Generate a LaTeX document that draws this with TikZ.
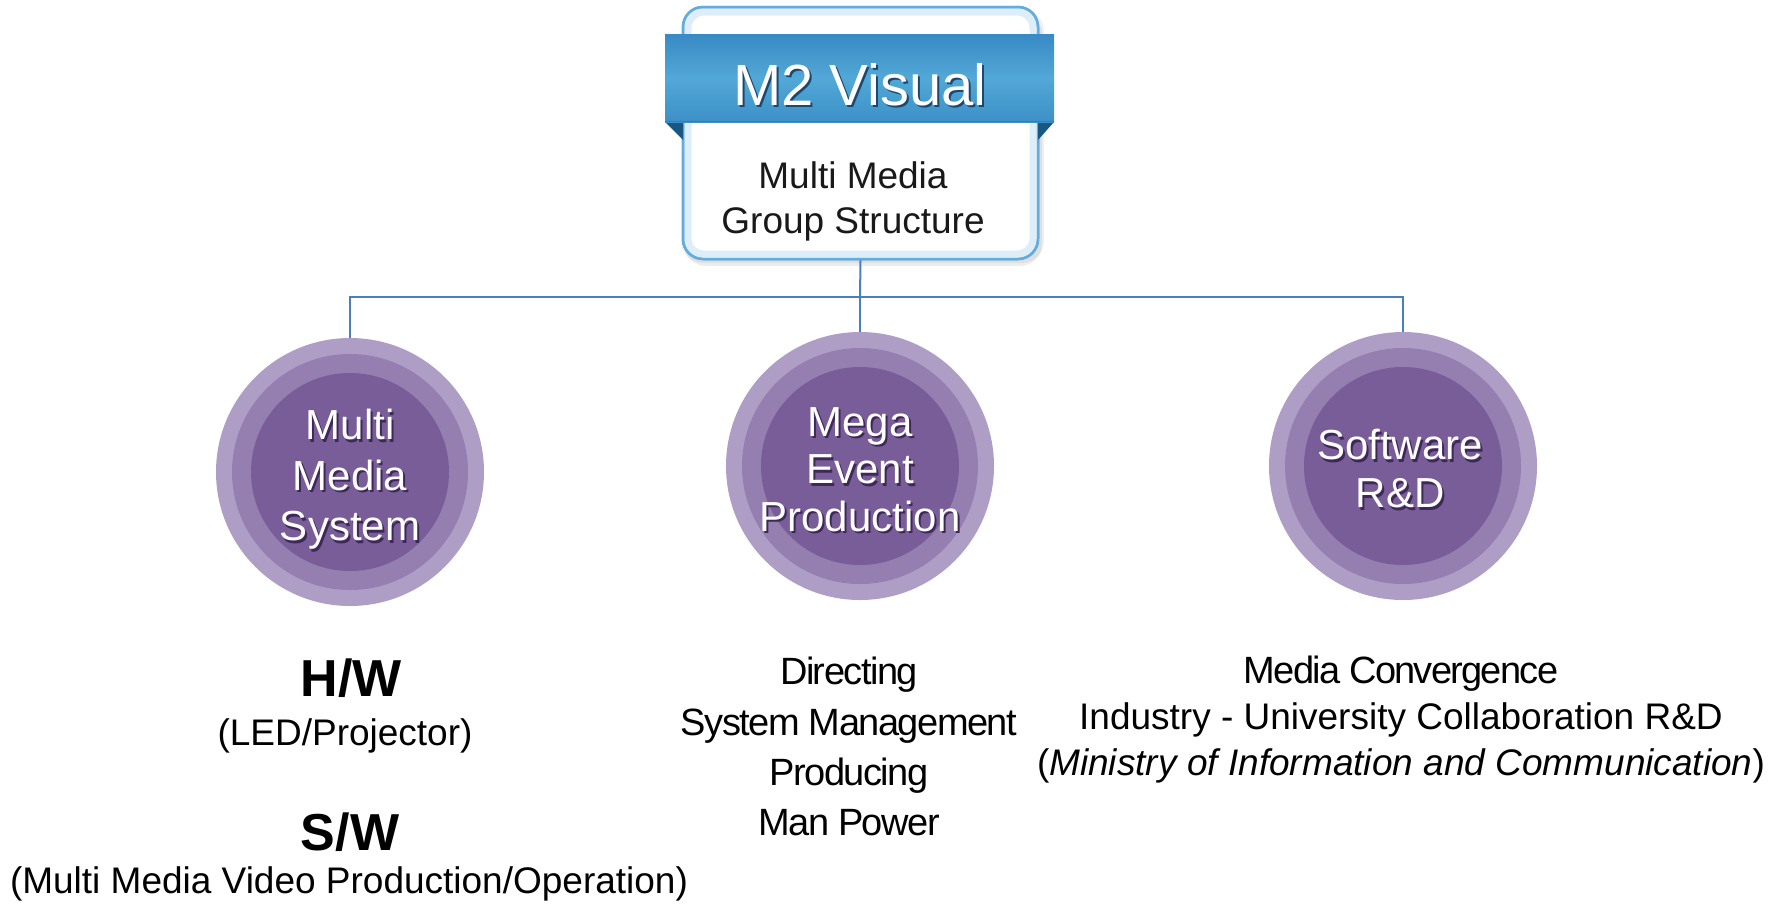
\documentclass[tikz,border=0pt]{standalone}
\usepackage{fontspec}
\setmainfont{Liberation Sans}
\definecolor{lineblue}{RGB}{74,126,193}
\definecolor{boxborder}{RGB}{98,172,222}
\definecolor{boxglow}{RGB}{200,228,245}
\definecolor{bantop}{RGB}{56,138,196}
\definecolor{banmid}{RGB}{82,168,214}
\definecolor{banbot}{RGB}{60,144,199}
\definecolor{bandark}{RGB}{24,86,132}
\definecolor{banshadow}{RGB}{28,72,112}
\definecolor{ringout}{RGB}{174,158,198}
\definecolor{ringmid}{RGB}{148,127,176}
\definecolor{ringin}{RGB}{120,93,152}
\definecolor{ringshadow}{RGB}{62,40,88}
\definecolor{textdark}{RGB}{25,25,25}
\newcommand{\shtxt}[2]{\rlap{\kern2pt\raisebox{-2.5pt}{\textcolor{#1}{#2}}}#2}
\begin{document}
\begin{tikzpicture}[x=1pt,y=-1pt,
  ring/.style={circle, minimum size=268pt, inner sep=0pt, fill=ringout,
    path picture={\fill[ringmid] (path picture bounding box.center) circle (118pt);
                  \fill[ringin] (path picture bounding box.center) circle (99pt);}},
  ctext/.style={text=white, align=center, anchor=north, inner sep=0pt},
  conn/.style={draw=lineblue, line width=2pt},
  desc/.style={anchor=base, inner sep=0pt, text=black, font=\fontsize{37}{46}\selectfont},
  bold/.style={anchor=base, inner sep=0pt, text=black, font=\bfseries\fontsize{52}{52}\selectfont},
  headbox/.style={rectangle, rounded corners=20pt, minimum width=355pt, minimum height=252pt,
    inner sep=0pt, fill=white, draw=boxborder, line width=2.5pt}
]
\useasboundingbox (0,0) rectangle (1783,906);

% top box with shadow and inner glow
\fill[black, opacity=0.07, rounded corners=22pt] (684,12) rectangle (1042,266);
\fill[black, opacity=0.06, rounded corners=22pt] (681,9) rectangle (1044,263);
\node[headbox] (top) at (860.5,133) {};
\draw[boxglow, line width=7pt, opacity=0.6, rounded corners=16pt] (688,12) rectangle (1033,254);
\draw[boxborder, line width=2.5pt, rounded corners=20pt] (683,7) rectangle (1038,259);

% banner
\fill[bandark] (665,122) -- (683,122) -- (683,140) -- cycle;
\fill[bandark] (1054,122) -- (1038,122) -- (1038,140) -- cycle;
\shade[top color=bantop, bottom color=banbot, middle color=banmid] (665,34) rectangle (1054,122);
\draw[bantop!80!black, line width=1pt, opacity=0.5] (665,121.5) -- (1054,121.5);
\node[anchor=base, inner sep=0pt, text=white, font=\fontsize{58}{58}\selectfont] (title) at (860,105) {\shtxt{banshadow}{M2 Visual}};
\node[anchor=north, align=center, inner sep=0pt, text=textdark, font=\fontsize{37}{45}\selectfont] (sub) at (853,161) {Multi Media\\Group Structure};

% circles
\node[ring] (c1) at (350,472) {};
\node[ring] (c2) at (860,466) {};
\node[ring] (c3) at (1403,466) {};
\node[ctext, font=\fontsize{42}{50.5}\selectfont] (t1) at (350,409) {\shtxt{ringshadow}{Multi}\\\shtxt{ringshadow}{Media}\\\shtxt{ringshadow}{System}};
\node[ctext, font=\fontsize{42}{47.5}\selectfont] (t2) at (860,407) {\shtxt{ringshadow}{Mega}\\\shtxt{ringshadow}{Event}\\\shtxt{ringshadow}{Production}};
\node[ctext, font=\fontsize{42}{48}\selectfont] (t3) at (1400,429) {\shtxt{ringshadow}{Software}\\\shtxt{ringshadow}{R\&D}};

% connectors
\coordinate (bus) at (860,297);
\draw[conn] (top.south) -- (bus);
\draw[conn] (c1.north) |- (bus) -| (c3.north);
\draw[conn] (bus) -- (c2.north);

% descriptions
\node[bold] (hw) at (351,696) {H/W};
\node[desc] (hwd) at (345,745) {(LED/Projector)};
\node[bold] (sw) at (350,850) {S/W};
\node[desc] (swd) at (349,893) {(Multi Media Video Production/Operation)};

\node[anchor=north, align=center, inner sep=0pt, text=black,
  font=\fontsize{38}{50.3}\selectfont\addfontfeature{LetterSpace=-4}] (mid) at (849,657)
  {Directing\\System Management\\Producing\\Man Power};

\node[anchor=north, align=center, inner sep=0pt, text=black,
  font=\fontsize{37}{46}\selectfont] (rt) at (1401,656)
  {{\fontsize{38}{46}\selectfont\addfontfeature{LetterSpace=-4.5}Media Convergence}\\Industry - University Collaboration R\&D\\(\textit{Ministry of Information and Communication})};
\end{tikzpicture}
\end{document}
